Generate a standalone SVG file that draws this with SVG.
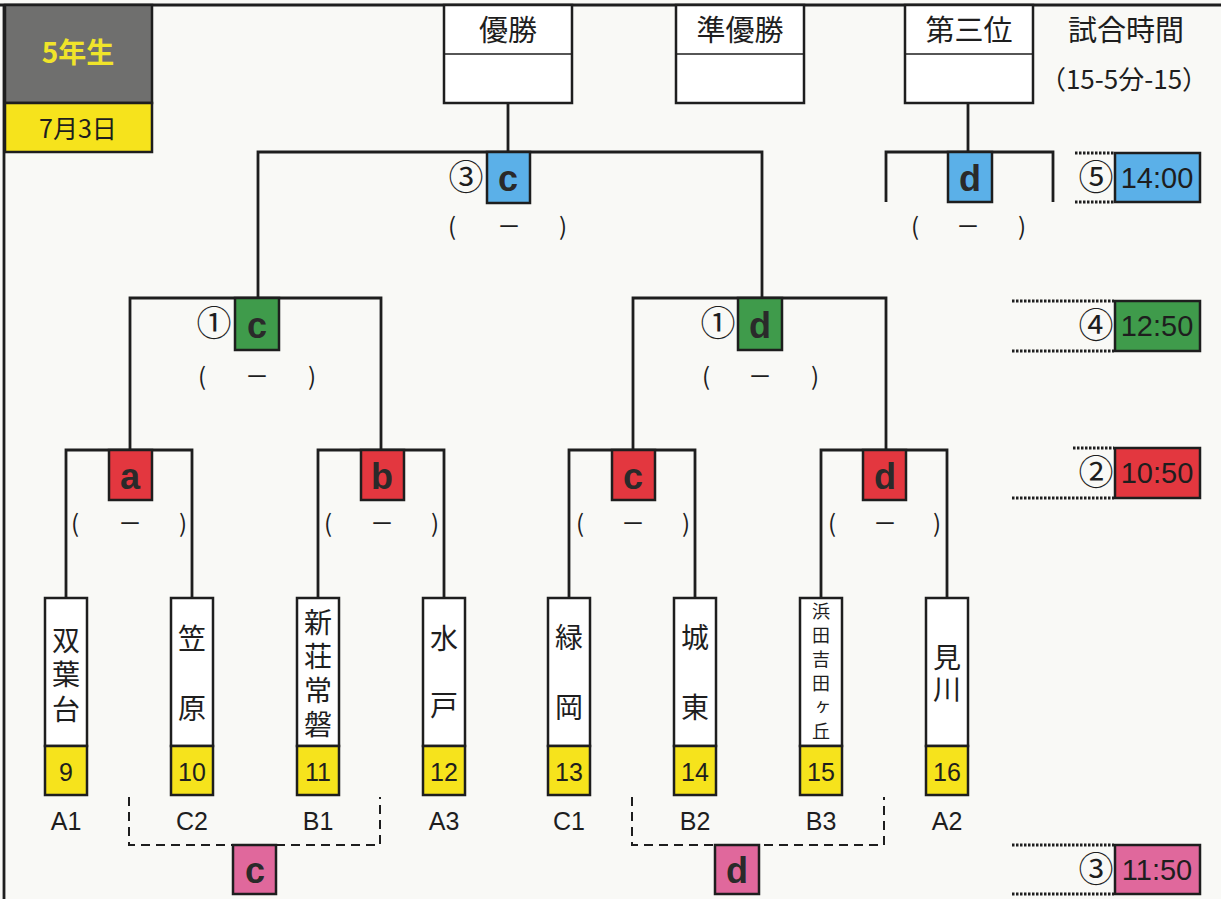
<svg xmlns="http://www.w3.org/2000/svg" width="1221" height="899" viewBox="0 0 1221 899">
<style>
.ln{stroke:#1e1e1e;stroke-width:2.8;fill:none}
.thin{stroke:#1e1e1e;stroke-width:1.5;fill:none}
.box{stroke:#1e1e1e;stroke-width:2.5}
.jp{font-family:"Noto Sans CJK JP","Noto Sans",sans-serif;fill:#1e1e1e}
.lt{font-family:"Liberation Sans",Arial,sans-serif;font-weight:bold;font-size:36px;fill:#2a2a2a;text-anchor:middle}
.num{font-family:"Liberation Sans",Arial,sans-serif;font-size:25px;fill:#1e1e1e;text-anchor:middle}
.par{font-family:"Noto Sans CJK JP",sans-serif;font-size:24px;fill:#1e1e1e;text-anchor:middle}
.team{font-family:"Noto Sans CJK JP",sans-serif;font-size:28px;fill:#1e1e1e;writing-mode:vertical-rl;text-anchor:start}
.small{font-size:18px}
.dot{stroke:#1e1e1e;stroke-width:3;stroke-dasharray:2.5 1.5;fill:none}
.dash{stroke:#1e1e1e;stroke-width:2;stroke-dasharray:9 6;fill:none}
.time{font-family:"Liberation Sans",Arial,sans-serif;font-size:29px;fill:#1e1e1e;text-anchor:middle}
.circ{font-family:"Noto Sans CJK JP",sans-serif;font-size:35px;fill:#1e1e1e;text-anchor:middle}
.white{fill:#ffffff}
.yel{fill:#f6e31c}
.blue{fill:#5bb0e8}
.green{fill:#3f9b4b}
.red{fill:#e3373f}
.pink{fill:#e0689c}
</style>
<rect width="1221" height="899" fill="#f9f9f6"/>
<g id="frame">
<line x1="0" y1="5" x2="1221" y2="5" class="ln" stroke-width="3"/>
<line x1="4" y1="5" x2="4" y2="899" class="ln"/>
</g>
<g id="header">
<rect x="5" y="5" width="147" height="98" fill="#6f6f6e" class="box"/>
<text x="78" y="63" font-family="'Noto Sans CJK JP',sans-serif" font-weight="bold" font-size="28" fill="#f0e42a" text-anchor="middle">5年生</text>
<rect x="5" y="103" width="147" height="49" class="box yel"/>
<text x="78" y="138" class="jp" font-size="25" text-anchor="middle">7月3日</text>
</g>
<g id="result-boxes">
<g id="winner">
<rect x="444" y="5" width="128" height="98" class="box white"/>
<line x1="444" y1="54" x2="572" y2="54" class="thin"/>
<text x="508" y="41" class="jp" font-size="29" text-anchor="middle">優勝</text>
</g>
<g id="runnerup">
<rect x="676" y="5" width="128" height="98" class="box white"/>
<line x1="676" y1="54" x2="804" y2="54" class="thin"/>
<text x="740" y="41" class="jp" font-size="29" text-anchor="middle">準優勝</text>
</g>
<g id="third">
<rect x="905" y="5" width="128" height="98" class="box white"/>
<line x1="905" y1="54" x2="1033" y2="54" class="thin"/>
<text x="969" y="41" class="jp" font-size="29" text-anchor="middle">第三位</text>
</g>
<text x="1126" y="41" class="jp" font-size="29" text-anchor="middle">試合時間</text>
<text x="1124" y="89" class="jp" font-size="26" text-anchor="middle">（15-5分-15）</text>
</g>
<g id="connectors">
<polyline points="508,103 508,152" class="ln"/>
<polyline points="258,298 258,152 762,152 762,298" class="ln"/>
<polyline points="968,103 968,152" class="ln"/>
<polyline points="886,202 886,152 1053,152 1053,202" class="ln"/>
<polyline points="130,450 130,298 381,298 381,450" class="ln"/>
<polyline points="633,450 633,298 886,298 886,450" class="ln"/>
<polyline points="66,598 66,450 192,450 192,598" class="ln"/>
<polyline points="318,598 318,450 444,450 444,598" class="ln"/>
<polyline points="569,598 569,450 695,450 695,598" class="ln"/>
<polyline points="821,598 821,450 947,450 947,598" class="ln"/>
<polyline points="129,797 129,845 380,845 380,797" class="dash"/>
<polyline points="632,797 632,845 884,845 884,797" class="dash"/>
</g>
<g id="final">
<rect x="487" y="152" width="43" height="51" class="box blue"/>
<text x="508" y="191" class="lt">c</text>
<text x="466" y="190" class="circ">③</text>
<text x="452" y="235" class="par">(</text><text x="509" y="235" class="par">－</text><text x="563" y="235" class="par">)</text>
</g>
<g id="third-match">
<rect x="948" y="152" width="44" height="50" class="box blue"/>
<text x="970" y="191" class="lt">d</text>
<text x="915" y="235" class="par">(</text><text x="968" y="235" class="par">－</text><text x="1022" y="235" class="par">)</text>
</g>
<g id="semi-c">
<rect x="235" y="298" width="44" height="52" class="box green"/>
<text x="257" y="338" class="lt">c</text>
<text x="214" y="336" class="circ">①</text>
<text x="202" y="385" class="par">(</text><text x="257" y="385" class="par">－</text><text x="312" y="385" class="par">)</text>
</g>
<g id="semi-d">
<rect x="738" y="298" width="44" height="52" class="box green"/>
<text x="760" y="338" class="lt">d</text>
<text x="718" y="336" class="circ">①</text>
<text x="706" y="385" class="par">(</text><text x="760" y="385" class="par">－</text><text x="815" y="385" class="par">)</text>
</g>
<g id="qf-a">
<rect x="109" y="450" width="43" height="50" class="box red"/>
<text x="130" y="489" class="lt">a</text>
<text x="75" y="532" class="par">(</text><text x="130" y="532" class="par">－</text><text x="183" y="532" class="par">)</text>
</g>
<g id="qf-b">
<rect x="361" y="450" width="43" height="50" class="box red"/>
<text x="382" y="489" class="lt">b</text>
<text x="328" y="532" class="par">(</text><text x="382" y="532" class="par">－</text><text x="435" y="532" class="par">)</text>
</g>
<g id="qf-c">
<rect x="612" y="450" width="43" height="50" class="box red"/>
<text x="633" y="489" class="lt">c</text>
<text x="580" y="532" class="par">(</text><text x="633" y="532" class="par">－</text><text x="686" y="532" class="par">)</text>
</g>
<g id="qf-d">
<rect x="863" y="450" width="43" height="50" class="box red"/>
<text x="885" y="489" class="lt">d</text>
<text x="832" y="532" class="par">(</text><text x="885" y="532" class="par">－</text><text x="937" y="532" class="par">)</text>
</g>
<g id="team9">
<rect x="45" y="598" width="42" height="148" class="box white"/>
<rect x="45" y="746" width="42" height="49" class="box yel"/>
<text x="66" y="626" class="team" letter-spacing="6.5">双葉台</text>
<text x="66" y="781" class="num">9</text>
<text x="66" y="830" class="num">A1</text>
</g>
<g id="team10">
<rect x="171" y="598" width="42" height="148" class="box white"/>
<rect x="171" y="746" width="42" height="49" class="box yel"/>
<text x="192" y="624" class="team" letter-spacing="42">笠原</text>
<text x="192" y="781" class="num">10</text>
<text x="192" y="830" class="num">C2</text>
</g>
<g id="team11">
<rect x="297" y="598" width="42" height="148" class="box white"/>
<rect x="297" y="746" width="42" height="49" class="box yel"/>
<text x="318" y="608" class="team" letter-spacing="6">新荘常磐</text>
<text x="318" y="781" class="num">11</text>
<text x="318" y="830" class="num">B1</text>
</g>
<g id="team12">
<rect x="423" y="598" width="42" height="148" class="box white"/>
<rect x="423" y="746" width="42" height="49" class="box yel"/>
<text x="444" y="624" class="team" letter-spacing="39">水戸</text>
<text x="444" y="781" class="num">12</text>
<text x="444" y="830" class="num">A3</text>
</g>
<g id="team13">
<rect x="548" y="598" width="42" height="148" class="box white"/>
<rect x="548" y="746" width="42" height="49" class="box yel"/>
<text x="569" y="623" class="team" letter-spacing="42">緑岡</text>
<text x="569" y="781" class="num">13</text>
<text x="569" y="830" class="num">C1</text>
</g>
<g id="team14">
<rect x="674" y="598" width="42" height="148" class="box white"/>
<rect x="674" y="746" width="42" height="49" class="box yel"/>
<text x="695" y="623" class="team" letter-spacing="42">城東</text>
<text x="695" y="781" class="num">14</text>
<text x="695" y="830" class="num">B2</text>
</g>
<g id="team15">
<rect x="800" y="598" width="42" height="148" class="box white"/>
<rect x="800" y="746" width="42" height="49" class="box yel"/>
<text x="821" y="602" class="team small" letter-spacing="6">浜田吉田ヶ丘</text>
<text x="821" y="781" class="num">15</text>
<text x="821" y="830" class="num">B3</text>
</g>
<g id="team16">
<rect x="926" y="598" width="42" height="148" class="box white"/>
<rect x="926" y="746" width="42" height="49" class="box yel"/>
<text x="947" y="643" class="team" letter-spacing="4">見川</text>
<text x="947" y="781" class="num">16</text>
<text x="947" y="830" class="num">A2</text>
</g>
<g id="consolation-c">
<rect x="233" y="845" width="43" height="49" class="box pink"/>
<text x="255" y="883" class="lt">c</text>
</g>
<g id="consolation-d">
<rect x="715" y="845" width="44" height="49" class="box pink"/>
<text x="737" y="883" class="lt">d</text>
</g>
<g id="times">
<g id="t5">
<line x1="1075" y1="153" x2="1114" y2="153" class="dot"/><line x1="1075" y1="202" x2="1114" y2="202" class="dot"/>
<rect x="1115" y="153" width="85" height="49" class="box blue"/>
<text x="1157" y="188" class="time">14:00</text>
<text x="1096" y="190" class="circ">⑤</text>
</g>
<g id="t4">
<line x1="1012" y1="301" x2="1114" y2="301" class="dot"/><line x1="1012" y1="351" x2="1114" y2="351" class="dot"/>
<rect x="1115" y="301" width="85" height="50" class="box green"/>
<text x="1157" y="336" class="time">12:50</text>
<text x="1096" y="338" class="circ">④</text>
</g>
<g id="t2">
<line x1="1073" y1="448" x2="1114" y2="448" class="dot"/><line x1="1012" y1="498" x2="1114" y2="498" class="dot"/>
<rect x="1115" y="448" width="85" height="50" class="box red"/>
<text x="1157" y="483" class="time">10:50</text>
<text x="1096" y="485" class="circ">②</text>
</g>
<g id="t3">
<line x1="1012" y1="845" x2="1114" y2="845" class="dot"/><line x1="1012" y1="894" x2="1114" y2="894" class="dot"/>
<rect x="1115" y="845" width="85" height="49" class="box pink"/>
<text x="1157" y="880" class="time">11:50</text>
<text x="1096" y="882" class="circ">③</text>
</g>
</g>
</svg>
